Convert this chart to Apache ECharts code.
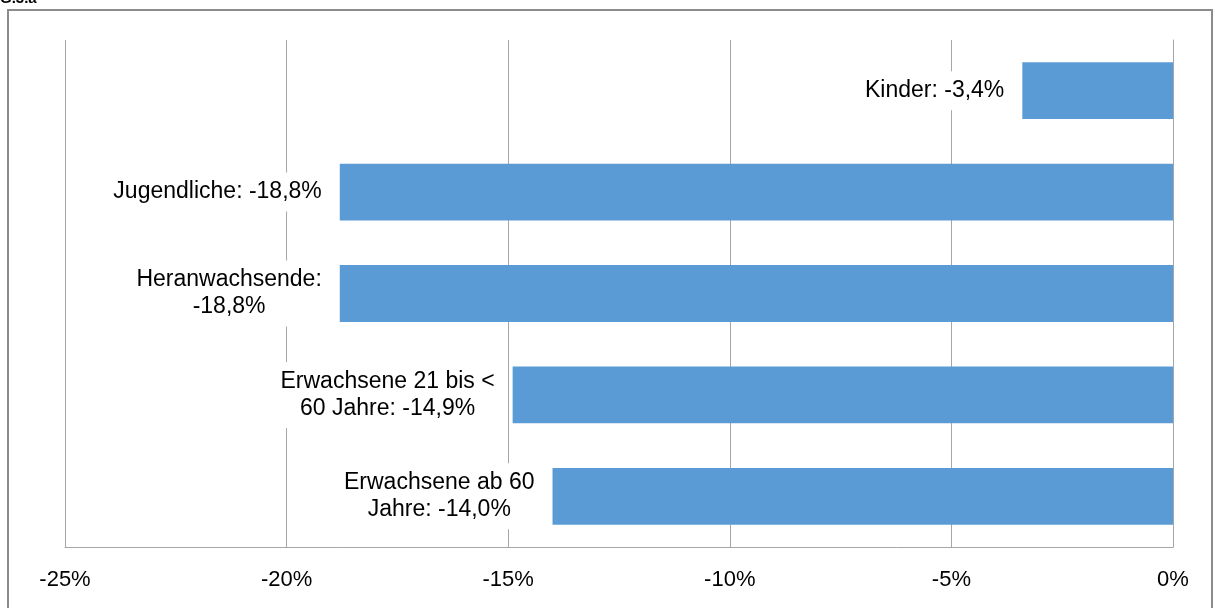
<!DOCTYPE html>
<html>
<head>
<meta charset="utf-8">
<script src="https://cdn.jsdelivr.net/npm/echarts@6/dist/echarts.min.js"></script>
<style>
  html, body { margin: 0; padding: 0; background: #fff; }
  #chart { width: 1215px; height: 608px; }
</style>
</head>
<body>
<div id="chart"></div>
<script>
// categories from top to bottom
const categories = ['Kinder', 'Jugendliche', 'Heranwachsende', 'Erwachsene 21 bis < 60 Jahre', 'Erwachsene ab 60 Jahre'];
const values = [-3.4, -18.8, -18.8, -14.9, -14.0];
const labels = [['Kinder: -3,4%'], ['Jugendliche: -18,8%'], ['Heranwachsende:', '-18,8%'], ['Erwachsene 21 bis <', '60 Jahre: -14,9%'], ['Erwachsene ab 60', 'Jahre: -14,0%']];

let chart = echarts.init(document.getElementById('chart'));
let option = {
  animation: false,
  graphic: [
    {
      type: 'rect',
      shape: { x: 8, y: 10, width: 1204, height: 620 },
      style: { fill: 'none', stroke: '#8c8c8c', lineWidth: 2 }
    },
    {
      type: 'text',
      left: 0,
      top: -9,
      style: { text: 'G.3.a', font: 'bold 15px "Liberation Sans"', fill: '#000' }
    }
  ],
  grid: { left: 65, right: 42, top: 40, bottom: 61 },
  xAxis: {
    type: 'value',
    min: -25,
    max: 0,
    interval: 5,
    axisLine: { show: true, lineStyle: { color: '#a6a6a6', width: 1 } },
    axisTick: { show: false },
    splitLine: { show: true, lineStyle: { color: '#a6a6a6', width: 1 } },
    axisLabel: {
      formatter: v => v + '%',
      color: '#000',
      fontSize: 22,
      fontFamily: 'Liberation Sans',
      margin: 22
    }
  },
  yAxis: {
    type: 'category',
    data: categories,
    inverse: true,
    position: 'right',
    axisLine: { show: true, onZero: false, lineStyle: { color: '#a6a6a6', width: 1 } },
    axisTick: { show: false },
    axisLabel: { show: false }
  },
  series: [
    {
      type: 'bar',
      data: values,
      barCategoryGap: '44%',
      itemStyle: { color: '#5b9bd5' },
      label: {
        show: true,
        position: 'left',
        distance: 12,
        formatter: p => labels[p.dataIndex].map(s => '{c|' + s + '}').join('\n'),
        backgroundColor: '#fff',
        padding: [6, 6],
        rich: {
          c: {
            align: 'center',
            color: '#000',
            fontSize: 23,
            fontFamily: 'Liberation Sans',
            lineHeight: 27
          }
        }
      }
    }
  ]
};
chart.setOption(option);
</script>
</body>
</html>
